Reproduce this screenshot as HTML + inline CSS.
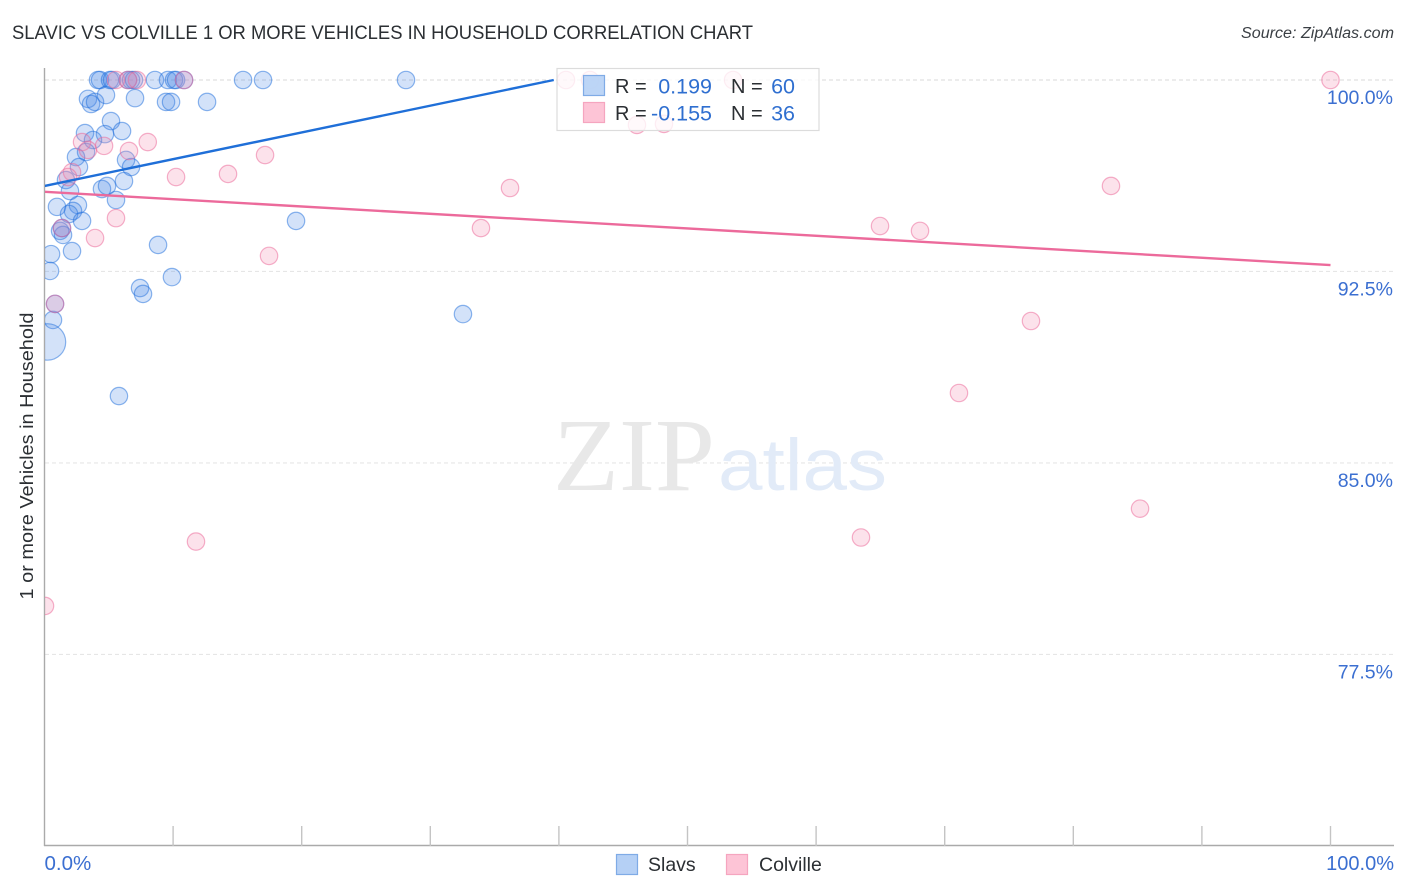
<!DOCTYPE html>
<html lang="en">
<head>
<meta charset="utf-8">
<title>Slavic vs Colville 1 or more Vehicles in Household Correlation Chart</title>
<style>
html,body{margin:0;padding:0;background:#fff;}
body{width:1406px;height:892px;overflow:hidden;font-family:"Liberation Sans",sans-serif;}
svg{display:block;}
text{font-family:"Liberation Sans",sans-serif;}
</style>
</head>
<body>
<svg id="chart" width="1406" height="892" viewBox="0 0 1406 892" xmlns="http://www.w3.org/2000/svg">
  <defs><clipPath id="plot-clip"><rect x="45" y="60" width="1349" height="786"/></clipPath></defs>
  <text x="12" y="39" font-size="19.5" fill="#2b2f33" textLength="741" lengthAdjust="spacingAndGlyphs">SLAVIC VS COLVILLE 1 OR MORE VEHICLES IN HOUSEHOLD CORRELATION CHART</text>
  <text x="1394" y="38" font-size="15.5" font-style="italic" fill="#3a3f44" text-anchor="end" textLength="153" lengthAdjust="spacingAndGlyphs">Source: ZipAtlas.com</text>
  <text transform="translate(33,456) rotate(-90)" font-size="18.5" fill="#2b2f33" text-anchor="middle" textLength="287" lengthAdjust="spacingAndGlyphs">1 or more Vehicles in Household</text>
  <g id="grid"></g>
  <g>
    <text x="553" y="490" font-size="104" fill="#e8e8e8" style="font-family:'Liberation Serif',serif" textLength="162" lengthAdjust="spacingAndGlyphs">ZIP</text>
    <text x="718" y="490" font-size="73" fill="#e2ebf8" textLength="169" lengthAdjust="spacingAndGlyphs">atlas</text>
  </g>
  <g id="axes"></g>
  <g id="points" clip-path="url(#plot-clip)"></g>
  <g id="trends" clip-path="url(#plot-clip)"></g>
  <g>
    <rect x="557" y="68.5" width="262" height="62" fill="#ffffff" fill-opacity="0.78" stroke="#dcdcdc" stroke-width="1.2"/>
    <rect x="583.5" y="75.5" width="21" height="20" fill="#b5d0f5" fill-opacity="0.9" stroke="#7fabe6" stroke-width="1.2"/>
    <rect x="583.5" y="102.5" width="21" height="20" fill="#fdc4d6" stroke="#f5a5bf" stroke-width="1.2"/>
    <text x="615" y="93" font-size="20" fill="#2b2f33">R =</text>
    <text x="712" y="93.5" font-size="21.5" fill="#2f6fd0" text-anchor="end">0.199</text>
    <text x="731" y="93" font-size="20" fill="#2b2f33">N =</text>
    <text x="795" y="93.5" font-size="21.5" fill="#2f6fd0" text-anchor="end">60</text>
    <text x="615" y="120" font-size="20" fill="#2b2f33">R =</text>
    <text x="712" y="120.5" font-size="21.5" fill="#2f6fd0" text-anchor="end">-0.155</text>
    <text x="731" y="120" font-size="20" fill="#2b2f33">N =</text>
    <text x="795" y="120.5" font-size="21.5" fill="#2f6fd0" text-anchor="end">36</text>
  </g>
  <g>
    <rect x="616.5" y="854.5" width="21" height="20" fill="#b5d0f5" stroke="#7fabe6" stroke-width="1.2"/>
    <text x="648" y="871" font-size="19.5" fill="#2b2f33">Slavs</text>
    <rect x="726.5" y="854.5" width="21" height="20" fill="#fdc4d6" stroke="#f5a5bf" stroke-width="1.2"/>
    <text x="759" y="871" font-size="19.5" fill="#2b2f33">Colville</text>
  </g>
</svg>
<script>
const yTickValues = [100, 92.5, 85, 77.5];
const yTickLabels = ["100.0%", "92.5%", "85.0%", "77.5%"];
const xTickValues = [0, 10, 20, 30, 40, 50, 60, 70, 80, 90, 100];
const xEndLabels = ["0.0%", "100.0%"];

const slavsX = [4.16,4.32,5.09,5.25,6.49,6.73,6.96,8.59,9.60,10.07,10.23,10.85,15.44,16.99,28.11,
  3.38,3.62,3.93,4.78,7.04,9.45,9.84,12.64,5.17,3.15,4.70,6.03,3.77,3.23,2.45,2.68,6.34,6.73,6.18,
  1.67,1.98,4.47,4.86,5.56,0.97,2.60,2.22,1.91,2.92,19.56,1.21,1.44,0.51,2.14,8.83,0.43,9.91,7.43,
  7.66,32.54,0.66,0.23,5.79,0.82,1.36];
const slavsY = [100,100,100,100,100,100,100,100,100,100,100,100,100,100,100,
  99.26,99.06,99.14,99.41,99.29,99.14,99.14,99.14,98.39,97.92,97.88,98.00,97.65,97.18,96.98,96.59,96.87,96.59,96.04,
  96.08,95.65,95.73,95.85,95.30,95.03,95.10,94.87,94.75,94.48,94.48,94.09,93.93,93.18,93.30,93.54,92.52,92.28,91.85,
  91.62,90.83,90.60,89.74,87.62,91.23,94.20];
const slavsWeight = [1,1,1,1,1,1,1,1,1,1,1,1,1,1,1,
  1,1,1,1,1,1,1,1,1,1,1,1,1,1,1,1,1,1,1,
  1,1,1,1,1,1,1,1,1,1,1,1,1,1,1,1,1,1,1,
  1,1,1,4.4,1,1,1];

const colvilleX = [5.56,6.49,7.19,10.85,40.55,42.42,53.54,100,46.07,48.17,8.03,4.63,2.92,6.57,3.38,17.15,
  2.14,1.83,10.23,14.27,36.2,82.93,5.56,1.36,3.93,33.94,64.97,68.08,17.46,0.82,76.71,71.11,85.19,63.49,11.78,0.04];
const colvilleY = [100,100,100,100,100,100,100,100,98.24,98.28,97.57,97.42,97.57,97.22,97.26,97.06,
  96.39,96.20,96.20,96.32,95.77,95.85,94.59,94.20,93.81,94.20,94.28,94.09,93.11,91.23,90.56,87.74,83.21,82.08,81.92,79.40];

const slavsTrendX = [0, 39.6];
const slavsTrendY = [95.85, 100];
const colvilleTrendX = [0, 100];
const colvilleTrendY = [95.62, 92.75];

const SVGNS = "http://www.w3.org/2000/svg";
function xScale(v){ return 44.5 + v * 12.86; }
function yScale(v){ return 80 + (100 - v) * 25.53; }
function rScale(w){ return 8.7 * Math.sqrt(w); }
function make(tag, attrs, parent){
  const el = document.createElementNS(SVGNS, tag);
  for (const k in attrs) el.setAttribute(k, attrs[k]);
  parent.appendChild(el);
  return el;
}

const gridG = document.getElementById("grid");
const axesG = document.getElementById("axes");
const pointsG = document.getElementById("points");
const trendsG = document.getElementById("trends");

yTickValues.forEach(function(v, i){
  const line = make("line", {x1:45, x2:1394, y1:yScale(v), y2:yScale(v), stroke: i === 0 ? "#d8d8d8" : "#e6e6e6", "stroke-width":1.1, "stroke-dasharray":"4 3"}, gridG);
  
  
  const label = make("text", {x:1393, y:yScale(v) + 24, "font-size":19.5, fill:"#3b6fd1", "text-anchor":"end"}, axesG);
  
  
  label.textContent = yTickLabels[i];
});

const yAxis = make("line", {x1:44.5, x2:44.5, y1:68, y2:846, stroke:"#aaaaaa", "stroke-width":1.4}, axesG);


const xAxis = make("line", {x1:44, x2:1394, y1:845.5, y2:845.5, stroke:"#aaaaaa", "stroke-width":1.4}, axesG);



xTickValues.slice(1).forEach(function(v){
  const tick = make("line", {x1:xScale(v), x2:xScale(v), y1:826, y2:846, stroke:"#c4c4c4", "stroke-width":1.4}, axesG);
  
  
});

const xLabelLeft = make("text", {x:44.5, y:870, "font-size":20.5, fill:"#3b6fd1"}, axesG);


xLabelLeft.textContent = xEndLabels[0];
const xLabelRight = make("text", {x:1394, y:870, "font-size":20, fill:"#3b6fd1", "text-anchor":"end"}, axesG);


xLabelRight.textContent = xEndLabels[1];

slavsX.forEach(function(v, i){
  const c = make("circle", {cx:xScale(v), cy:yScale(slavsY[i]), r:rScale(slavsWeight[i]), fill:"rgba(70,135,230,0.24)", stroke:"rgba(30,110,220,0.5)", "stroke-width":1.2}, pointsG);
  
  
});
colvilleX.forEach(function(v, i){
  const c = make("circle", {cx:xScale(v), cy:yScale(colvilleY[i]), r:8.7, fill:"rgba(245,140,175,0.25)", stroke:"rgba(235,100,150,0.5)", "stroke-width":1.2}, pointsG);
  
  
});

const slavsTrend = make("line", {x1:xScale(slavsTrendX[0]), y1:yScale(slavsTrendY[0]), x2:xScale(slavsTrendX[1]), y2:yScale(slavsTrendY[1]), stroke:"#1f6fd8", "stroke-width":2.4}, trendsG);


const colvilleTrend = make("line", {x1:xScale(colvilleTrendX[0]), y1:yScale(colvilleTrendY[0]), x2:xScale(colvilleTrendX[1]), y2:yScale(colvilleTrendY[1]), stroke:"#ec6a9b", "stroke-width":2.4}, trendsG);


</script>
</body>
</html>
